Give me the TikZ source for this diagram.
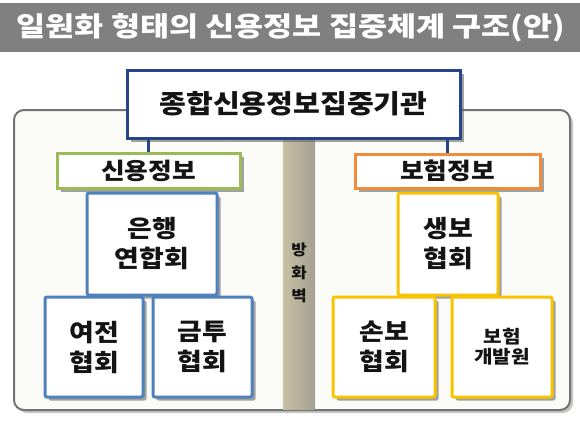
\documentclass[tikz,border=0pt]{standalone}
\usepackage{fontspec}
\setmainfont{Noto Sans CJK KR}[FakeStretch=1.12]
\newfontfamily\titlefont{Noto Sans CJK KR}[FakeStretch=1.17]
\usetikzlibrary{shadows}
\definecolor{titlegray}{RGB}{128,128,128}
\definecolor{navy}{RGB}{38,68,135}
\definecolor{olive}{RGB}{155,187,89}
\definecolor{orng}{RGB}{240,140,60}
\definecolor{bblue}{RGB}{79,129,189}
\definecolor{gold}{RGB}{250,195,0}
\definecolor{wallL}{RGB}{200,192,165}
\definecolor{wallR}{RGB}{165,160,145}
\definecolor{outerfill}{RGB}{251,251,248}
\definecolor{txt}{RGB}{20,20,20}
\tikzset{
  x=1pt,y=-1pt,
  shd/.style={drop shadow={shadow xshift=3.5pt,shadow yshift=-3.5pt,fill=black!60,opacity=0.6}},
  box/.style={draw,fill=white,line width=3pt,rounded corners=2pt,align=center,text=txt,font=\bfseries\fontsize{24}{30}\selectfont,inner sep=0pt,shd},
  bluebox/.style={box,draw=bblue},
  goldbox/.style={box,draw=gold},
  head/.style={draw,fill=white,line width=3pt,align=center,text=txt,font=\bfseries\fontsize{23}{26}\selectfont,inner sep=0pt,shd},
  conn/.style={line width=3pt,draw=navy},
}
\begin{document}
\begin{tikzpicture}
\useasboundingbox (0,0) rectangle (580,420);
% title
\fill[titlegray] (0,3) rectangle (580,52);
\node[text=white,font=\titlefont\bfseries\fontsize{27}{30}\selectfont] (title) at (291,28) {일원화 형태의 신용정보 집중체계 구조(안)};
% outer container
\draw[line width=2pt,draw=black!55,fill=outerfill,rounded corners=10pt,drop shadow={shadow xshift=3pt,shadow yshift=-3pt,fill=black!45}] (14,110) rectangle (570,410);
% firewall
\shade[left color=wallL,right color=wallR] (283,138) rectangle (315,409);
\node[text=txt,font=\bfseries\fontsize{15}{23}\selectfont,align=center] (wall) at (299,273) {방\\화\\벽};
% top node
\node[draw=navy,fill=white,line width=3pt,text=txt,font=\bfseries\fontsize{26}{28}\selectfont,minimum width=333pt,minimum height=68pt,inner sep=0pt,shd] (top) at (293.5,104) {종합신용정보집중기관};
% headers
\node[head,draw=olive,minimum width=183pt,minimum height=35pt] (sin) at (148.5,170.5) {신용정보};
\node[head,draw=orng,minimum width=185pt,minimum height=34pt] (boh) at (447.5,171) {보험정보};
\draw[conn] (sin.north) -- (sin.north |- top.south);
\draw[conn] (boh.north) -- (boh.north |- top.south);
% credit side
\node[bluebox,minimum width=130pt,minimum height=102pt] (eun) at (152,244) {은행\\연합회};
\node[bluebox,minimum width=98pt,minimum height=100pt] (yeo) at (94,347) {여전\\협회};
\node[bluebox,minimum width=99pt,minimum height=100pt] (geum) at (202.5,347) {금투\\협회};
% insurance side
\node[goldbox,minimum width=100pt,minimum height=102pt] (saeng) at (448,244) {생보\\협회};
\node[goldbox,minimum width=102pt,minimum height=100pt] (son) at (384,347) {손보\\협회};
\node[goldbox,minimum width=100pt,minimum height=100pt,font=\bfseries\fontsize{18}{20}\selectfont] (gae) at (502,347) {보험\\개발원};
\end{tikzpicture}
\end{document}
